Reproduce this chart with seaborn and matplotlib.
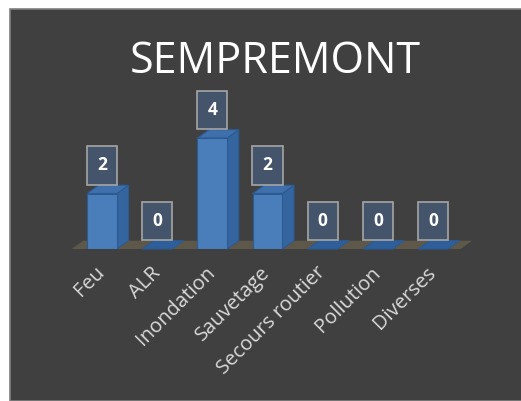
# semprement_interventions.py
# Bar chart of interventions by type for Sprimont / Sempremont, dark office-style theme

import matplotlib
matplotlib.use("Agg")
import matplotlib.pyplot as plt
from matplotlib.patches import Polygon, Rectangle
import pandas as pd
import seaborn as sns

# data
categories = ["Feu", "ALR", "Inondation", "Sauvetage", "Secours routier", "Pollution", "Diverses"]
counts = [2, 0, 4, 2, 0, 0, 0]
title = "SEMPREMONT"

df = pd.DataFrame({"type": categories, "n": counts})

sns.set_style("dark")
plt.rcParams['font.family'] = ['Open Sans', 'DejaVu Sans']

W, H = 521, 401
fig = plt.figure(figsize=(W / 100, H / 100), dpi=100, facecolor="white")

# dark panel with thin grey border (white margin top/left)
fig.patches.append(Rectangle((10 / W, 0), 1, (H - 9) / H, transform=fig.transFigure,
                             facecolor="#404040", edgecolor="#7f7f7f", linewidth=1.2, zorder=-5))

ax = fig.add_axes([74.4 / W, (H - 249) / H, 386.2 / W, 5.5 * 27.75 / H])
ax.set_facecolor("none")

sns.barplot(data=df, x="type", y="n", color="#4a7ebb", width=0.54, saturation=1,
            edgecolor="#2c5a91", linewidth=0.8, ax=ax, zorder=3)

ax.set_xlim(-0.5, 6.5)
ax.set_ylim(0, 5.5)

dx, dy = 0.21, 0.3
# floor
ax.add_patch(Polygon([(-0.55, 0), (6.5, 0), (6.5 + dx, dy), (-0.55 + dx, dy)],
                     closed=True, facecolor="#5d5849", edgecolor="none", zorder=1, clip_on=False))

# 3d faces for each bar
for p in list(ax.patches):
    if not isinstance(p, Rectangle):
        continue
    x0, w, h = p.get_x(), p.get_width(), p.get_height()
    side = [(x0 + w, 0), (x0 + w + dx, dy), (x0 + w + dx, h + dy), (x0 + w, h)]
    top = [(x0, h), (x0 + dx, h + dy), (x0 + w + dx, h + dy), (x0 + w, h)]
    if h > 0:
        ax.add_patch(Polygon(side, closed=True, facecolor="#35659e", edgecolor="#2c5a91",
                             linewidth=0.8, zorder=2, clip_on=False))
    ax.add_patch(Polygon(top, closed=True, facecolor="#3f70ab" if h > 0 else "#2f5f9a",
                         edgecolor="#2c5a91", linewidth=0.8, zorder=4, clip_on=False))

# value labels in boxes
for i, v in enumerate(counts):
    ax.annotate(str(v), (i, v), xytext=(0, 28 * 0.72), textcoords="offset points",
                ha="center", va="center", color="white", fontsize=12.5, fontweight="bold",
                bbox=dict(boxstyle="square,pad=0.58", facecolor="#44546a",
                          edgecolor="#a6a6a6", linewidth=1.2),
                zorder=6, annotation_clip=False)

ax.set_xlabel("")
ax.set_ylabel("")
ax.set_yticks([])
ax.tick_params(axis="x", length=0, pad=15, colors="#d9d9d9")
for lab in ax.get_xticklabels():
    lab.set_rotation(45)
    lab.set_ha("right")
    lab.set_va("center")
    lab.set_rotation_mode("anchor")
    lab.set_fontsize(14.5)
    lab.set_color("#d9d9d9")
for s in ax.spines.values():
    s.set_visible(False)
ax.grid(False)

fig.text(275 / W, (H - 62) / H, title, ha="center", va="center", color="white", fontsize=31)

fig.savefig("out.png", dpi=100, facecolor="white")
